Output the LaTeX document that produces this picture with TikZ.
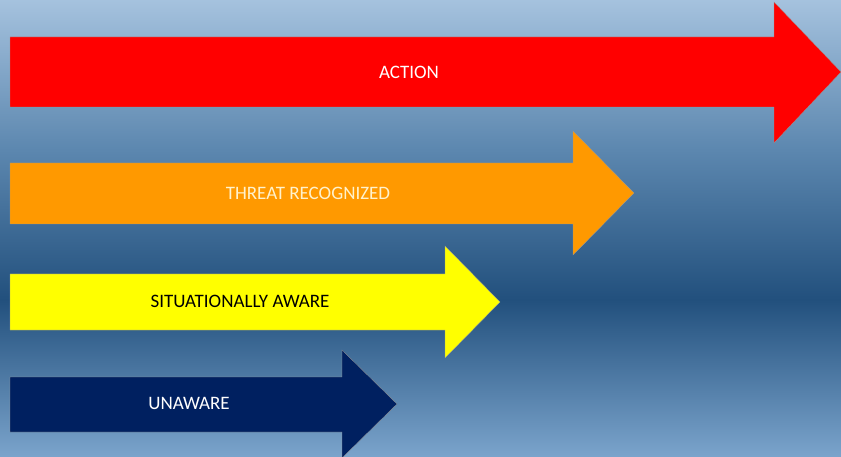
\documentclass[tikz,border=0pt]{standalone}
\usepackage{fontspec}
\setmainfont{Carlito}
\definecolor{bgtop}{HTML}{A5C2DE}
\definecolor{bgmid}{HTML}{5C87AF}
\definecolor{bgdark}{HTML}{22507D}
\definecolor{bgbot}{HTML}{7BA4CC}
\definecolor{arred}{HTML}{FF0000}
\definecolor{arorange}{HTML}{FF9900}
\definecolor{aryellow}{HTML}{FFFF00}
\definecolor{arnavy}{HTML}{002060}
\definecolor{cream}{HTML}{FFF2CC}
\pgfdeclareverticalshading{bgshade}{100bp}{color(0bp)=(bgbot); color(25bp)=(bgbot); color(42.2bp)=(bgdark); color(58.6bp)=(bgmid); color(75bp)=(bgtop); color(100bp)=(bgtop)}
\begin{document}
\begin{tikzpicture}[x=1pt,y=-1pt,
  arrowshape/.style={draw=black!40,line width=0.3pt},
  lbl/.style={font=\fontsize{19}{22}\selectfont, inner sep=0pt}]
\useasboundingbox (0,0) rectangle (841,457);
\shade[shading=bgshade] (0,0) rectangle (841,457);
% red
\fill[arred,arrowshape] (10,37) -- (774,37) -- (774,2) -- (841,72) -- (774,143) -- (774,107) -- (10,107) -- cycle;
\node[lbl,text=white] (action) at (409,72) {ACTION};
% orange
\fill[arorange,arrowshape] (10,163) -- (573,163) -- (573,131) -- (634,193) -- (573,255) -- (573,224) -- (10,224) -- cycle;
\node[lbl,text=cream] (threat) at (308,193) {THREAT RECOGNIZED};
% yellow
\fill[aryellow,arrowshape] (10,274) -- (445,274) -- (445,246) -- (500,302) -- (445,358) -- (445,330) -- (10,330) -- cycle;
\node[lbl,text=black] (aware) at (240,301) {SITUATIONALLY AWARE};
% navy
\fill[arnavy,arrowshape] (10,377) -- (342,377) -- (342,350) -- (397,404) -- (342,458) -- (342,432) -- (10,432) -- cycle;
\node[lbl,text=white] (unaware) at (189,403) {UNAWARE};
\end{tikzpicture}
\end{document}
